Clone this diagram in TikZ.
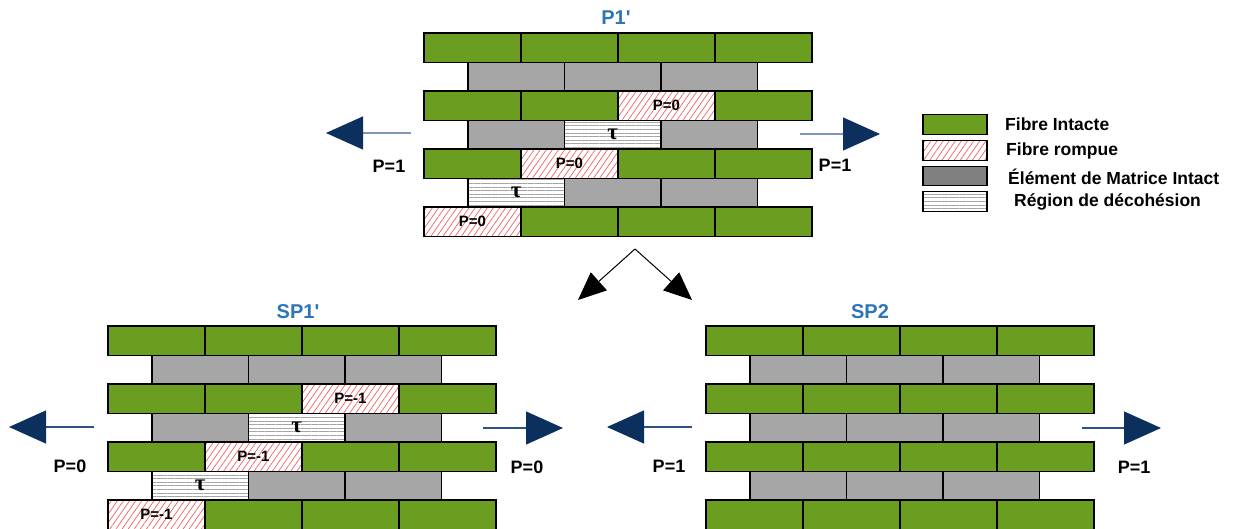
\documentclass[tikz,border=0pt]{standalone}
\usepackage{fontspec}
\setmainfont{Liberation Sans}
\newfontfamily\grecfont{Liberation Serif}
\usetikzlibrary{arrows.meta}
\usetikzlibrary{patterns.meta}

\definecolor{vertfibre}{RGB}{107,158,32}
\definecolor{grismat}{RGB}{166,166,166}
\definecolor{grislegende}{RGB}{128,128,128}
\definecolor{bleutitre}{RGB}{46,117,182}
\definecolor{marine}{RGB}{11,48,94}
\definecolor{bleuclair}{RGB}{127,150,186}
\definecolor{bleufonce}{RGB}{47,80,130}
\definecolor{rougehach}{RGB}{240,95,95}
\definecolor{grisligne}{RGB}{165,165,165}

% un mur de 4 rangees de fibres et 3 rangees de matrice
\newcommand{\mur}[1]{%
  \foreach \ligne in {0,...,3}
    \foreach \col in {0,...,3}
      \node[fibre,f\ligne\col/.try] (#1-f\ligne\col) at (97*\col,58*\ligne) {};
  \foreach \ligne in {0,...,2}
    \foreach \col in {0,...,2}
      \node[matrice,m\ligne\col/.try] (#1-m\ligne\col) at (44+96.5*\col,29.5+58*\ligne) {};
}

\begin{document}
\begin{tikzpicture}[x=1pt,y=-1pt]
\tikzset{brique/.style={rectangle, draw, line width=1.3pt, anchor=north west, inner sep=0pt, outer sep=0pt}}
\tikzset{fibre/.style={brique, fill=vertfibre, minimum width=97, minimum height=29.5}}
\tikzset{matrice/.style={brique, fill=grismat, minimum width=96.5, minimum height=28.5}}
\tikzset{hachure/.style={pattern={Lines[angle=55,distance=5pt,line width=0.7pt]}, pattern color=rougehach}}
\tikzset{lignes/.style={pattern={Lines[angle=0,distance=3.6pt,line width=0.6pt]}, pattern color=grisligne}}
\tikzset{rompue/.style={hachure, font=\fontsize{15}{15}\selectfont\bfseries}}
\tikzset{decohesion/.style={lignes, font=\grecfont\fontsize{23}{23}\selectfont\bfseries, execute at begin node={τ}}}
\tikzset{titre/.style={text=bleutitre, font=\fontsize{20}{22}\selectfont\bfseries}}
\tikzset{etiq/.style={font=\fontsize{18}{20}\selectfont\bfseries}}
\tikzset{legbox/.style={rectangle, draw, line width=1.3pt, minimum width=64, minimum height=19.5, inner sep=0pt}}
\tikzset{legtxt/.style={anchor=west, inner sep=0pt, font=\fontsize{17.5}{19}\selectfont\bfseries}}
\tikzset{traction/.style={line width=1.2pt, -{Triangle[length=37pt,width=33pt,color=marine]}}}
\tikzset{separation/.style={line width=1pt, -{Triangle[length=28pt,width=24pt]}}}
\useasboundingbox (0,0) rectangle (1236,529);

% P1'
\begin{scope}[shift={(424,33)},
  f12/.style={rompue, execute at begin node={P=0}},
  f21/.style={rompue, execute at begin node={P=0}},
  f30/.style={rompue, execute at begin node={P=0}},
  m11/.style={decohesion}, m20/.style={decohesion}]
\mur{p1}
\end{scope}
\node[titre] (p1-titre) at (616,18) {P1\textquotesingle};
\coordinate (p1-g0) at (411,133);
\coordinate (p1-g1) at (326,133);
\coordinate (p1-d0) at (800,134);
\coordinate (p1-d1) at (880,134);
\draw[traction, bleuclair] (p1-g0) -- (p1-g1);
\draw[traction, bleuclair] (p1-d0) -- (p1-d1);
\node[etiq] (p1-pg) at (389,166) {P=1};
\node[etiq] (p1-pd) at (835,165) {P=1};

% SP1'
\begin{scope}[shift={(108,326)},
  f12/.style={rompue, execute at begin node={P=-1}},
  f21/.style={rompue, execute at begin node={P=-1}},
  f30/.style={rompue, execute at begin node={P=-1}},
  m11/.style={decohesion}, m20/.style={decohesion}]
\mur{sp1}
\end{scope}
\node[titre] (sp1-titre) at (298,312) {SP1\textquotesingle};
\coordinate (sp1-g0) at (94,427);
\coordinate (sp1-g1) at (9,427);
\coordinate (sp1-d0) at (483,428);
\coordinate (sp1-d1) at (563,428);
\draw[traction, bleufonce] (sp1-g0) -- (sp1-g1);
\draw[traction, bleufonce] (sp1-d0) -- (sp1-d1);
\node[etiq] (sp1-pg) at (70,466) {P=0};
\node[etiq] (sp1-pd) at (527,467) {P=0};

% SP2
\begin{scope}[shift={(706,326)}]
\mur{sp2}
\end{scope}
\node[titre] (sp2-titre) at (870,312) {SP2};
\coordinate (sp2-g0) at (692,427);
\coordinate (sp2-g1) at (607,427);
\coordinate (sp2-d0) at (1082,428);
\coordinate (sp2-d1) at (1161,428);
\draw[traction, bleufonce] (sp2-g0) -- (sp2-g1);
\draw[traction, bleufonce] (sp2-d0) -- (sp2-d1);
\node[etiq] (sp2-pg) at (669,466) {P=1};
\node[etiq] (sp2-pd) at (1134,467) {P=1};

% separation
\coordinate (fourche) at (635,249);
\coordinate (fourche-g) at (578,300);
\coordinate (fourche-d) at (692,300);
\draw[separation] (fourche) -- (fourche-g);
\draw[separation] (fourche) -- (fourche-d);

% legende
\node[legbox, fill=vertfibre] (leg-f) at (955,124.5) {};
\node[legbox, hachure] (leg-r) at (955,150.5) {};
\node[legbox, fill=grislegende] (leg-m) at (955,176) {};
\node[legbox, lignes] (leg-d) at (955,201.5) {};
\node[legtxt] (leg-ft) at (1005,124) {Fibre Intacte};
\node[legtxt] (leg-rt) at (1006,151) {Fibre rompue};
\node[legtxt] (leg-mt) at (1008,177) {Élément de Matrice Intact};
\node[legtxt] (leg-dt) at (1014,202) {Région de décohésion};
\end{tikzpicture}
\end{document}
